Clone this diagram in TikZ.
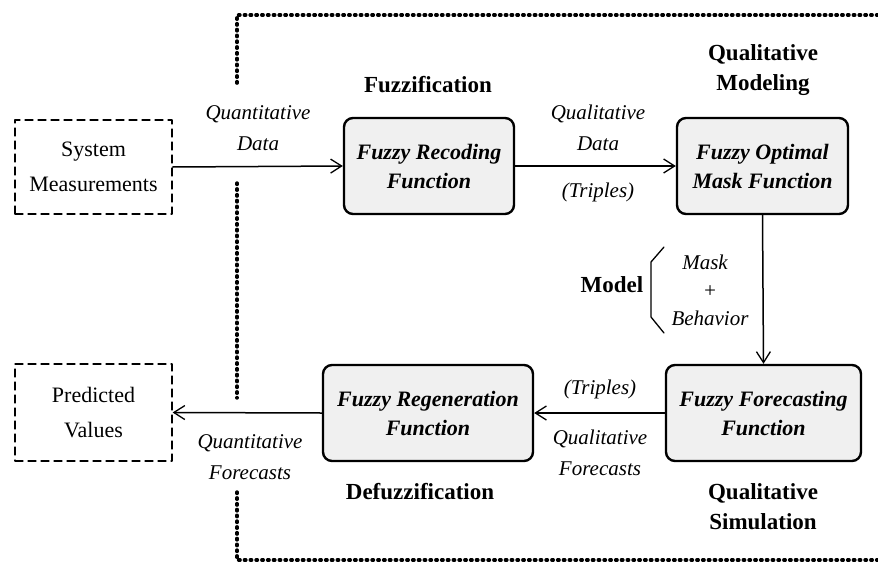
\documentclass[tikz,border=0pt]{standalone}
\usepackage{fontspec}
\setmainfont{Liberation Serif}
\usetikzlibrary{arrows.meta}
\tikzset{
  funcbox/.style={draw,line width=2.4pt,rounded corners=9pt,fill=black!6,align=center,
    font=\fontsize{22}{29}\selectfont\bfseries\itshape,inner sep=0pt},
  extbox/.style={draw,line width=1.3pt,dash pattern=on 8pt off 5pt,align=center,
    font=\fontsize{22}{35}\selectfont,inner sep=0pt,minimum width=157pt},
  flowlabel/.style={align=center,font=\fontsize{21}{31}\selectfont\itshape},
  stagelabel/.style={align=center,font=\fontsize{23}{30}\selectfont\bfseries},
  frameline/.style={line width=3.4pt,dash pattern=on 1.5pt off 4.3pt,line cap=round}
}
\begin{document}
\begin{tikzpicture}[line cap=round,line join=round,x=1pt,y=-1pt,
  >={Straight Barb[length=11pt,width=14pt,line width=1.3pt]}]
\useasboundingbox (0,0) rectangle (878,565);
%boxes
\node [extbox,minimum height=94pt] (sm) at (93.5,167) {System\\Measurements};
\node [extbox,minimum height=97pt] (pv) at (93.5,412.5) {Predicted\\Values};
\node [funcbox,minimum width=170pt,minimum height=96pt] (rec) at (429,166) {Fuzzy Recoding\\Function};
\node [funcbox,minimum width=171pt,minimum height=96pt] (opt) at (762.5,166) {Fuzzy Optimal\\Mask Function};
\node [funcbox,minimum width=195pt,minimum height=96pt] (fc) at (763.5,413) {Fuzzy Forecasting\\Function};
\node [funcbox,minimum width=210pt,minimum height=96pt] (rg) at (428,413) {Fuzzy Regeneration\\Function};
%dotted frame
\draw [frameline] (878,15) -- (237,15) -- (237,85);
\draw [frameline] (237,183) -- (237,398);
\draw [frameline] (237,492) -- (237,560) -- (878,560);
%arrows
\draw [->,line width=1.5pt] (sm.east) -- (rec.west);
\draw [->,line width=1.5pt] (rec.east) -- (opt.west);
\draw [->,line width=1.5pt] (opt.south) -- (fc.north);
\draw [->,line width=1.5pt] (fc.west) -- (rg.east);
\draw [->,line width=1.5pt] (rg.west) -- (pv.east);
%labels
\node [flowlabel] (qd) at (258,128) {Quantitative\\Data};
\node [flowlabel] (qld) at (598,128) {Qualitative\\Data};
\node [flowlabel] (tr1) at (598,192) {(Triples)};
\node [flowlabel] (tr2) at (600,389) {(Triples)};
\node [flowlabel] (qf) at (600,453) {Qualitative\\Forecasts};
\node [flowlabel] (qtf) at (250,457) {Quantitative\\Forecasts};
\node [stagelabel] (fz) at (428,85) {Fuzzification};
\node [stagelabel] (qm) at (763,70) {Qualitative\\Modeling};
\node [stagelabel] (dfz) at (420,492) {Defuzzification};
\node [stagelabel] (qs) at (763,507) {Qualitative\\Simulation};
\node [stagelabel] (mdl) at (612,285) {Model};
\draw [line width=1.3pt] (664,247) -- (651,262) -- (651,317) -- (664,333);
\node [flowlabel] (mask) at (705,262) {Mask};
\node [flowlabel] (plus) at (710,292) {+};
\node [flowlabel] (beh) at (710,318) {Behavior};
\end{tikzpicture}
\end{document}
